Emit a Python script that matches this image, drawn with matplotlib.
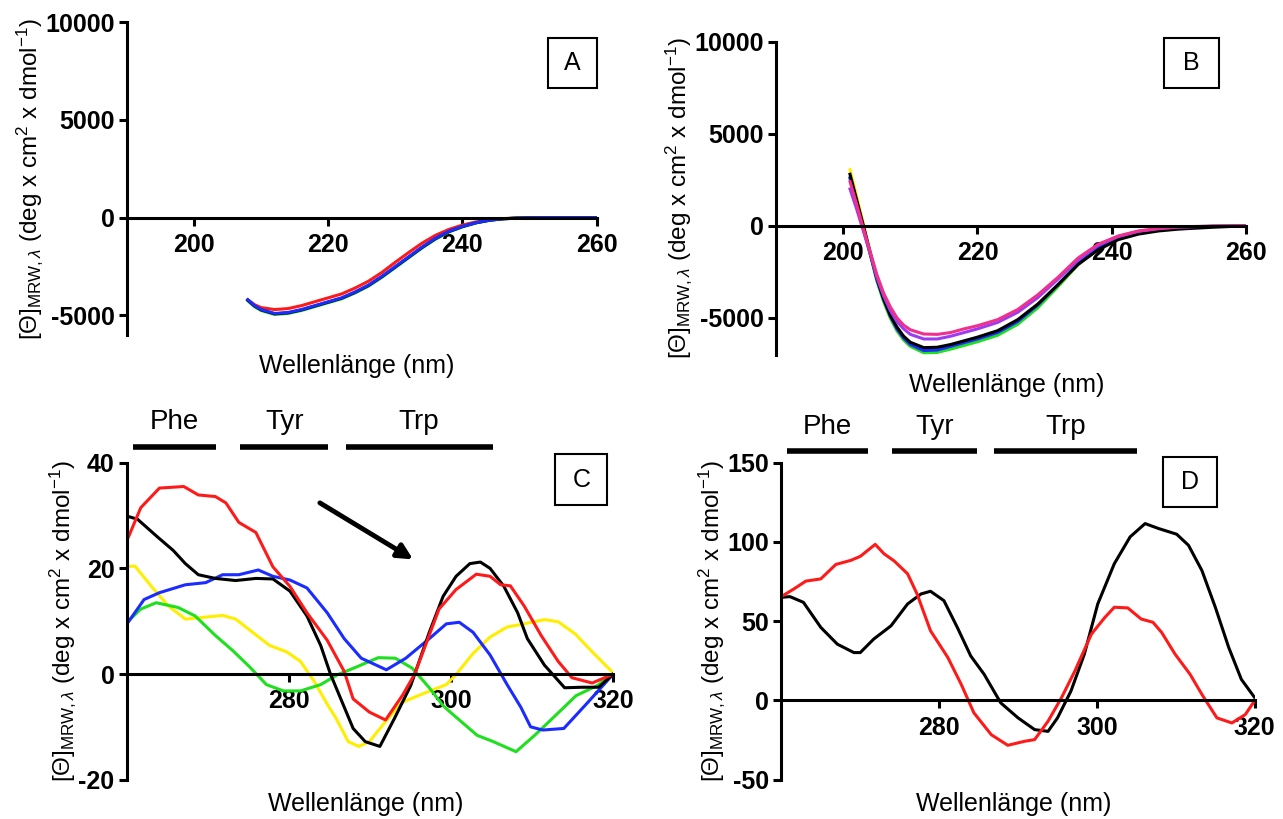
import numpy as np
import matplotlib
matplotlib.use("Agg")
import matplotlib.pyplot as plt
from matplotlib.patches import Rectangle

plt.rcParams['font.family'] = ['Liberation Sans', 'DejaVu Sans']
plt.rcParams['mathtext.fontset'] = 'custom'
plt.rcParams['mathtext.rm'] = 'Liberation Sans'
plt.rcParams['mathtext.it'] = 'Liberation Sans:italic'
plt.rcParams['mathtext.bf'] = 'Liberation Sans:bold'
plt.rcParams['axes.unicode_minus'] = False

# ---- panel A (far UV, 4 samples)
wl_a = [208, 209, 210, 212, 214, 216, 218, 220, 222, 224, 226, 228, 230, 232,
        234, 236, 238, 240, 242, 244, 246, 248, 250, 252, 256, 260]
a_red = [-4200, -4450, -4600, -4700, -4650, -4500, -4300, -4100, -3900, -3600, -3250, -2800, -2280,
         -1780, -1300, -900, -600, -380, -220, -110, -50, -20, -5, 0, 0, 0]
a_green = [-4250, -4550, -4750, -4950, -4900, -4750, -4550, -4350, -4150, -3850, -3500, -3050, -2550,
           -2050, -1550, -1100, -730, -470, -270, -140, -60, -25, -10, 0, 0, 0]
a_black = [-4220, -4520, -4720, -4920, -4870, -4720, -4520, -4320, -4120, -3820, -3470, -3020, -2520,
           -2020, -1520, -1070, -710, -460, -265, -135, -60, -25, -10, 0, 0, 0]
a_blue = [-4200, -4500, -4700, -4900, -4850, -4700, -4500, -4300, -4100, -3800, -3450, -3000, -2500,
          -2000, -1500, -1050, -700, -450, -260, -130, -60, -25, -10, 0, 0, 0]

# ---- panel B (far UV, 6 samples)
wl_b = [201, 202, 203, 204, 205, 206, 207, 208, 209, 210, 212, 214, 216, 218, 220,
        223, 226, 229, 232, 235, 238, 241, 244, 247, 250, 255, 260]
b_yellow = [3050, 1600, 100, -1400, -2900, -4100, -5000, -5700, -6200, -6550, -6880, -6850, -6650, -6450,
            -6250, -5900, -5300, -4400, -3300, -2100, -1250, -680, -360, -190, -90, -30, 0]
b_green = [2600, 1250, -150, -1550, -3000, -4100, -5000, -5700, -6200, -6550, -6900, -6880, -6700, -6500,
           -6300, -5950, -5350, -4450, -3300, -2100, -1250, -680, -360, -190, -90, -30, 0]
b_blue = [2600, 1300, -100, -1500, -2900, -4000, -4900, -5600, -6100, -6450, -6780, -6750, -6550, -6350,
          -6150, -5800, -5200, -4300, -3200, -2050, -1200, -650, -350, -180, -90, -30, 0]
b_black = [2800, 1400, 0, -1450, -2850, -3950, -4850, -5500, -6000, -6330, -6620, -6600, -6450, -6250,
           -6050, -5700, -5100, -4250, -3200, -2100, -1300, -750, -450, -280, -180, -80, 0]
b_purple = [2000, 900, -300, -1500, -2800, -3800, -4600, -5200, -5600, -5900, -6150, -6150, -6000, -5800,
            -5600, -5250, -4700, -3900, -2900, -1850, -1050, -580, -300, -160, -70, -20, 0]
b_pink = [2400, 1150, -150, -1400, -2650, -3650, -4400, -5000, -5400, -5650, -5880, -5900, -5800, -5600,
          -5430, -5100, -4550, -3750, -2800, -1750, -1000, -550, -280, -140, -60, -15, 0]

# ---- panel C (near UV, 5 samples)
c_red_x = [260, 261.7, 264, 267, 268.8, 270.9, 272.2, 273.8, 275.9, 278, 280.1, 282.2, 284.7, 286.8,
           287.9, 289.9, 291.9, 294, 295.5, 298.5, 300.6, 303.1, 304.8, 306.1, 307.3, 309, 311.1,
           313.2, 314.9, 317.4, 320]
c_red_y = [25.3, 31.5, 35.2, 35.5, 33.9, 33.6, 32.4, 28.7, 26.8, 20.3, 16.6, 11.6, 6.4, 0.5,
           -4.7, -7.2, -8.7, -4, 0, 12.3, 16, 18.9, 18.5, 16.9, 16.7, 12.9, 7.3,
           2.4, -0.7, -1.7, 0]
c_black_x = [260, 261.3, 263.8, 265.7, 267.2, 268.8, 270.9, 273.4, 275.9, 278, 280.1, 282.2, 283.9,
             285.1, 287.9, 289.4, 291.2, 293, 295, 297.3, 299, 300.6, 302.3, 303.6, 304.8, 306.5,
             308.2, 309.4, 311.5, 314, 316.1, 318.2, 320]
c_black_y = [29.9, 29.3, 25.9, 23.4, 20.9, 18.8, 18.1, 17.7, 18.1, 18, 15.7, 11, 5.4,
             0, -10.3, -12.8, -13.7, -8.4, -2.2, 7.9, 14.7, 18.5, 20.9, 21.2, 20, 16.6,
             11.6, 6.7, 1.7, -2.6, -2.5, -2.5, 0]
c_blue_x = [260, 262.1, 264, 267.2, 269.7, 271.8, 273.8, 276.2, 278, 280.1, 282.2, 284.7, 286.8,
            288.9, 292, 294.4, 297.3, 299.4, 301, 302.7, 304.8, 306.9, 308.6, 309.8, 311.3,
            313.9, 316.9, 320]
c_blue_y = [9.5, 14.1, 15.4, 16.9, 17.3, 18.8, 18.8, 19.7, 18.5, 17.8, 16.3, 11.6, 6.7,
            3, 0.8, 3, 6.7, 9.5, 9.8, 7.9, 3.6, -2, -6.3, -10, -10.6,
            -10.3, -5.3, 0]
c_green_x = [260, 261.7, 263.6, 266.3, 268.4, 270.9, 273, 275.1, 277.2, 279.3, 281.4, 283.9, 286,
             288.1, 291, 293.1, 295.2, 297.3, 299, 300.1, 303.2, 305.2, 308, 310.3, 312.9, 315.4,
             318, 320]
c_green_y = [9.8, 12.3, 13.5, 12.6, 11, 7.3, 4.5, 1.4, -2, -3.2, -3.2, -2, -0.1,
             1.2, 3.1, 3, 1.1, -2.6, -6, -7.5, -11.6, -12.8, -14.7, -11.6, -7.8, -4.1,
             -2.2, 0]
c_yellow_x = [260, 261, 263, 265.1, 267.2, 269.2, 271.8, 273.4, 275.5, 277.6, 279.7, 281.4, 283.1,
              284.7, 285.8, 287.3, 288.6, 289.9, 291.9, 293.9, 296.4, 299.4, 300.6, 302.7, 304.8,
              306.9, 309, 311.5, 313.2, 315.3, 317.4, 320]
c_yellow_y = [20.4, 20.4, 16.6, 12.9, 10.4, 10.7, 11.1, 10.4, 7.9, 5.4, 4.2, 2.4, -1.4,
              -5.7, -8.4, -12.8, -13.7, -12.8, -9, -5.4, -3.8, -2, -0.1, 3.9, 7,
              8.9, 9.5, 10.3, 9.9, 7.6, 4.2, 0.2]

# ---- panel D (near UV, 2 samples)
d_black_x = [260, 261.1, 262.8, 265, 267.1, 269.2, 270, 271.7, 273.9, 276, 277.7, 278.9, 280.6,
             282.3, 284, 285.7, 287.8, 290, 292.1, 293.8, 295, 296.7, 298.4, 300.1, 302.2, 304.2,
             306.1, 307.8, 310.1, 311.6, 313.3, 315, 316.7, 318.3, 320]
d_black_y = [65.1, 65.5, 61.9, 46.1, 35.5, 30.2, 30.2, 38.7, 47.1, 60.9, 67.2, 68.9, 63,
             46.1, 28.1, 16.5, -1.5, -11, -18.4, -19.5, -11, 5.9, 29.2, 60.9, 86.3, 103.2,
             111.6, 108.5, 104.9, 97.9, 82, 58.8, 33.4, 13.3, 1.7]
d_red_x = [260, 261.6, 263.1, 265, 266.9, 268.8, 270, 271.9, 273, 274.3, 276, 277.2, 278.9, 281.1,
           282.8, 284.4, 286.6, 288.7, 290.8, 292.1, 293.8, 295.5, 297.2, 299.3, 301, 302.2, 303.9,
           305.6, 307.1, 308.2, 309.9, 311.8, 313.3, 315.2, 317.1, 318.8, 320]
d_red_y = [65.5, 70.4, 75.3, 76.7, 85.8, 88.4, 90.9, 98.5, 92.6, 88, 79.9, 67.2, 44, 27.1,
           10.1, -7.8, -21.6, -28.3, -25.8, -24.7, -13.1, 1.7, 18.6, 41.9, 52.4, 58.8, 58.4,
           51.4, 49.3, 42.9, 29.2, 16.5, 3.8, -11, -14.2, -8.9, 0]

bands = ['Phe', 'Tyr', 'Trp']
band_lo = [260.7, 274.0, 287.0]
band_hi = [271.0, 284.8, 305.1]

RED = '#ff1a1a'
GREEN = '#1fe01f'
BLUE = '#1a2cff'
YELLOW = '#ffee00'
PURPLE = '#9c3cf0'
PINK = '#f0308c'

ylab = r'[$\Theta$]$_{\mathrm{MRW},\lambda}$ (deg x cm$^2$ x dmol$^{-1}$)'

fig = plt.figure(figsize=(12.83, 8.19), dpi=100)
axA = fig.add_axes([0.099, 0.591, 0.366, 0.382])
axB = fig.add_axes([0.605, 0.567, 0.366, 0.382])
axC = fig.add_axes([0.099, 0.048, 0.379, 0.387])
axD = fig.add_axes([0.609, 0.048, 0.369, 0.387])


def style(ax, xlim, ylim, xt, yt):
    ax.set_xlim(*xlim)
    ax.set_ylim(*ylim)
    for s in ['top', 'right']:
        ax.spines[s].set_visible(False)
    ax.spines['bottom'].set_position(('data', 0))
    ax.spines['left'].set_linewidth(2.2)
    ax.spines['bottom'].set_linewidth(2.2)
    ax.set_xticks(xt)
    ax.set_yticks(yt)
    ax.tick_params(width=2.2, length=6, labelsize=18)
    ax.tick_params(axis='x', pad=5)
    ax.tick_params(axis='y', pad=3)
    for lab in ax.get_xticklabels() + ax.get_yticklabels():
        lab.set_fontweight('bold')
    ax.set_xlabel('Wellenlänge (nm)', fontsize=18)
    ax.set_ylabel(ylab, fontsize=17.5, labelpad=0)
    ax.patch.set_alpha(0)


def boxlabel(ax, x0, y0, w, h, txt):
    ax.add_patch(Rectangle((x0, y0), w, h, transform=ax.transAxes, fill=False,
                           lw=1.5, ec='black', clip_on=False))
    ax.text(x0 + w / 2, y0 + h / 2, txt, transform=ax.transAxes, ha='center',
            va='center', fontsize=18)


def bandbars(ax, ybar, ytxt):
    tr = ax.get_xaxis_transform()
    for name, lo, hi in zip(bands, band_lo, band_hi):
        ax.plot([lo, hi], [ybar, ybar], color='black', lw=4, transform=tr,
                clip_on=False, solid_capstyle='butt')
        ax.text((lo + hi) / 2, ytxt, name, transform=tr, ha='center', va='center',
                fontsize=20)


lw = 2.2
# A
for y, c in [(a_red, RED), (a_green, GREEN), (a_black, 'black'), (a_blue, BLUE)]:
    axA.plot(wl_a, y, color=c, lw=lw)
style(axA, (190, 260), (-6000, 10000), [200, 220, 240, 260], [-5000, 0, 5000, 10000])
axA.xaxis.set_label_coords(0.49, -0.06)
boxlabel(axA, 0.896, 0.789, 0.104, 0.16, 'A')

# B
for y, c in [(b_yellow, YELLOW), (b_green, GREEN), (b_blue, BLUE), (b_black, 'black'),
             (b_purple, PURPLE), (b_pink, PINK)]:
    axB.plot(wl_b, y, color=c, lw=lw)
style(axB, (190, 260), (-7000, 10000), [200, 220, 240, 260], [-5000, 0, 5000, 10000])
axB.xaxis.set_label_coords(0.49, -0.06)
boxlabel(axB, 0.825, 0.853, 0.119, 0.16, 'B')

# C
for xs, ys, c in [(c_yellow_x, c_yellow_y, YELLOW), (c_green_x, c_green_y, GREEN),
                  (c_blue_x, c_blue_y, BLUE), (c_black_x, c_black_y, 'black'),
                  (c_red_x, c_red_y, RED)]:
    axC.plot(xs, ys, color=c, lw=lw)
style(axC, (260, 320), (-20, 40), [280, 300, 320], [-20, 0, 20, 40])
axC.xaxis.set_label_coords(0.49, -0.04)
boxlabel(axC, 0.881, 0.868, 0.107, 0.158, 'C')
bandbars(axC, 1.05, 1.13)
axC.annotate('', xy=(295.3, 21.7), xytext=(283.8, 32.4),
             arrowprops=dict(arrowstyle='-|>,head_length=0.9,head_width=0.45',
                             color='black', lw=3.5, shrinkA=0, shrinkB=0))

# D
for xs, ys, c in [(d_black_x, d_black_y, 'black'), (d_red_x, d_red_y, RED)]:
    axD.plot(xs, ys, color=c, lw=lw)
style(axD, (260, 320), (-50, 150), [280, 300, 320], [-50, 0, 50, 100, 150])
axD.xaxis.set_label_coords(0.49, -0.04)
boxlabel(axD, 0.806, 0.861, 0.114, 0.158, 'D')
bandbars(axD, 1.038, 1.114)

fig.savefig('out.png', dpi=100)
